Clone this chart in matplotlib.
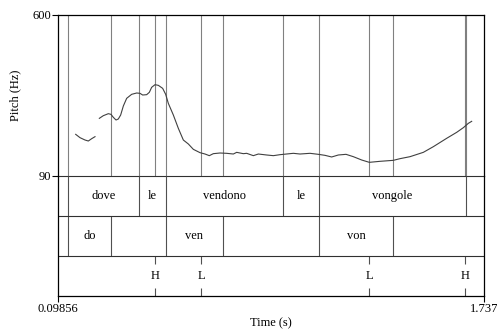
import matplotlib.pyplot as plt

plt.rcParams["font.family"] = ["Liberation Serif", "DejaVu Serif"]

t_start, t_end = 0.09856, 1.737
f_min, f_max = 90, 600

# pitch track, two voiced stretches (time s, Hz)
seg1_t = [0.1653, 0.1819, 0.2011, 0.2139, 0.2268, 0.2396]
seg1_f = [221.7, 211.2, 203.8, 200.6, 208.0, 214.3]
seg2_t = [0.2563, 0.2716, 0.2909, 0.3011, 0.3101, 0.3204, 0.3293, 0.3383, 0.3486,
          0.3614, 0.3806, 0.3999, 0.4127, 0.4229, 0.4383, 0.4486, 0.4575, 0.4704,
          0.4832, 0.4998, 0.5114, 0.5216, 0.5409, 0.5601, 0.5793, 0.5986, 0.6178,
          0.6434, 0.6627, 0.6793, 0.6947, 0.7204, 0.7460, 0.7716, 0.7845, 0.8101,
          0.8229, 0.8486, 0.8678, 0.8998, 0.9255, 0.9511, 1.0024, 1.0281, 1.0665,
          1.0986, 1.1242, 1.1498, 1.1755, 1.2050, 1.2332, 1.2652, 1.2947, 1.3357,
          1.3870, 1.4127, 1.4512, 1.5024, 1.5409, 1.5921, 1.6306, 1.6563, 1.6755,
          1.6883]
seg2_f = [272.3, 280.7, 287.0, 284.9, 275.5, 267.0, 270.2, 282.8, 311.3,
          335.5, 348.2, 352.4, 351.3, 346.0, 347.1, 354.5, 370.3, 378.7,
          376.6, 367.1, 348.2, 319.7, 282.8, 240.7, 203.8, 191.2, 174.3,
          163.8, 159.5, 154.3, 160.6, 162.7, 161.7, 159.5, 164.8, 160.6,
          161.7, 154.3, 159.5, 156.4, 154.3, 157.4, 161.7, 159.5, 161.7,
          158.5, 155.3, 150.1, 156.4, 158.5, 151.1, 140.6, 133.2, 136.4,
          139.5, 144.8, 151.1, 164.8, 182.7, 209.1, 228.0, 242.8, 256.5,
          262.8]

# TextGrid tiers
word_bounds = [0.1371, 0.4101, 0.5117, 0.9640, 1.1024, 1.6646]
word_labels = ["dove", "le", "vendono", "le", "vongole"]
syl_bounds = [0.1371, 0.3024, 0.5117, 0.7309, 1.1024, 1.3870]
syl_labels = ["do", "ven", "von"]
syl_pairs = [(0, 1), (2, 3), (4, 5)]
tone_times = [0.4717, 0.6486, 1.2947, 1.6619]
tone_labels = ["H", "L", "L", "H"]

fig = plt.figure(figsize=(4.97, 3.29), dpi=100)
W, H = 497, 329
left, right = 58.33 / W, 484.33 / W
ax = fig.add_axes([left, (H - 176) / H, right - left, 161.33 / H])
tx = fig.add_axes([left, (H - 296) / H, right - left, 120 / H], sharex=ax)
tx.patch.set_visible(False)

all_bounds = sorted(set(word_bounds + syl_bounds + tone_times))
ax.vlines(all_bounds, f_min, f_max, color="#808080", lw=0.8)
ax.plot(seg1_t, seg1_f, color="#404040", lw=0.8)
ax.plot(seg2_t, seg2_f, color="#404040", lw=0.8)
ax.set_xlim(t_start, t_end)
ax.set_ylim(f_min, f_max)
ax.set_yticks([f_min, f_max])
ax.set_yticklabels(["90", "600"], fontsize=9)
ax.tick_params(axis="y", length=4, width=0.8, pad=1)
ax.tick_params(axis="x", bottom=False, labelbottom=False)
ax.set_ylabel("Pitch (Hz)", fontsize=9, labelpad=8)
for s in ax.spines.values():
    s.set_linewidth(0.9)
ax.spines["bottom"].set_color("#303030")
ax.spines["bottom"].set_linewidth(0.8)

# tiers: word 2..3, syllable 1..2, tones 0..1
tx.set_ylim(0, 3)
tx.vlines(word_bounds, 2, 3, color="#505050", lw=0.8)
for i, lab in enumerate(word_labels):
    tx.text((word_bounds[i] + word_bounds[i + 1]) / 2, 2.5, lab,
            ha="center", va="center", fontsize=9)
tx.vlines(syl_bounds, 1, 2, color="#505050", lw=0.8)
for (a, b), lab in zip(syl_pairs, syl_labels):
    tx.text((syl_bounds[a] + syl_bounds[b]) / 2, 1.5, lab,
            ha="center", va="center", fontsize=9)
tx.vlines(tone_times, 0.8, 1, color="#505050", lw=0.8)
tx.vlines(tone_times, 0, 0.2, color="#505050", lw=0.8)
for t, lab in zip(tone_times, tone_labels):
    tx.text(t, 0.5, lab, ha="center", va="center", fontsize=9)
tx.axhline(2, color="#303030", lw=0.8)
tx.axhline(1, color="#303030", lw=0.8)
tx.set_yticks([])
tx.spines["top"].set_visible(False)
for s in tx.spines.values():
    s.set_linewidth(0.9)
tx.set_xticks([t_start, t_end])
tx.set_xticklabels(["0.09856", "1.737"], fontsize=9)
tx.tick_params(axis="x", length=4, width=0.8, pad=1)
tx.set_xlabel("Time (s)", fontsize=9, labelpad=2)

fig.savefig("out.png", dpi=100)
